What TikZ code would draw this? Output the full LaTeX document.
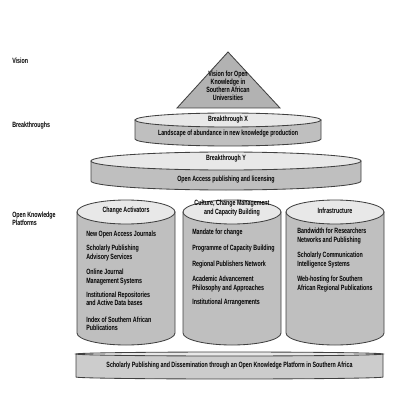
\documentclass[tikz,border=0pt]{standalone}
\usepackage{fontspec}
\setmainfont{Liberation Sans}[FakeStretch=0.7]
\usetikzlibrary{calc}

\begin{document}
\begin{tikzpicture}[x=0.025cm, y=0.025cm,
  shell/.style={draw=black!75, line width=0.6pt, fill=black!25},
  lid/.style={draw=black!75, line width=0.6pt, fill=black!9},
  lbl/.style={font=\bfseries\fontsize{5.4}{5.8}\selectfont, inner sep=0pt, align=center},
  item/.style={lbl, anchor=west, align=left}]
  \useasboundingbox (0,0) rectangle (400,-400);
  % ---- level labels on the left ----
  \node[item] (lvision) at (12,-61) {Vision};
  \node[item] (lbreak) at (12,-126) {Breakthroughs};
  \node[item] (lplat) at (12,-219) {Open Knowledge\\Platforms};
  % ---- vision: triangle ----
  \draw[shell, fill=black!30] (228,-52) -- (280,-108) -- (177,-108) -- cycle;
  \node[lbl] (vision) at (228,-86)
    {Vision for Open\\Knowledge in\\Southern African\\Universities};
  % ---- breakthrough X ----
  \draw[shell] (135,-120) -- (135,-139)
    arc[start angle=180, end angle=360, x radius=93, y radius=7] -- (321,-120) -- cycle;
  \draw[lid] (228,-120) ellipse [x radius=93, y radius=7];
  \node[lbl] (bx) at (228,-120) {Breakthrough X};
  \node[lbl] (bxtext) at (228,-134) {Landscape of abundance in new knowledge production};
  % ---- breakthrough Y ----
  \draw[shell] (91,-161) -- (91,-181)
    arc[start angle=180, end angle=360, x radius=135, y radius=9] -- (361,-161) -- cycle;
  \draw[lid] (226,-161) ellipse [x radius=135, y radius=9];
  \node[lbl] (by) at (226,-159) {Breakthrough Y};
  \node[lbl] (bytext) at (226,-180) {Open Access publishing and licensing};
  % ---- three platform columns ----
  \foreach \cx in {126,232,335} {
    \draw[shell] (\cx-49,-212) -- (\cx-49,-333)
      arc[start angle=180, end angle=360, x radius=49, y radius=12] -- (\cx+49,-212) -- cycle;
    \draw[lid] (\cx,-212) ellipse [x radius=49, y radius=12];
  }
  \node[lbl] (ca) at (126,-211) {Change Activators};
  \node[lbl] (ccm) at (232,-208) {Culture, Change Management\\and Capacity Building};
  \node[lbl] (infra) at (335,-211) {Infrastructure};
  % change activators
  \node[item] (ca1) at (86,-235) {New Open Access Journals};
  \node[item] (ca2) at (86,-253) {Scholarly Publishing\\Advisory Services};
  \node[item] (ca3) at (86,-277) {Online Journal\\Management Systems};
  \node[item] (ca4) at (86,-299) {Institutional Repositories\\and Active Data bases};
  \node[item] (ca5) at (86,-324) {Index of Southern African\\Publications};
  % culture, change management
  \node[item] (cc1) at (192,-233) {Mandate for change};
  \node[item] (cc2) at (192,-249) {Programme of Capacity Building};
  \node[item] (cc3) at (192,-265) {Regional Publishers Network};
  \node[item] (cc4) at (192,-284) {Academic Advancement\\Philosophy and Approaches};
  \node[item] (cc5) at (192,-303) {Institutional Arrangements};
  % infrastructure
  \node[item] (in1) at (297,-236) {Bandwidth for Researchers\\Networks and Publishing};
  \node[item] (in2) at (297,-260) {Scholarly Communication\\Intelligence Systems};
  \node[item] (in3) at (297,-284) {Web-hosting for Southern\\African Regional Publications};
  % ---- base platform ----
  \draw[shell, fill=black!20] (76,-354) -- (76,-377)
    arc[start angle=180, end angle=360, x radius=153.5, y radius=2] -- (383,-354) -- cycle;
  \draw[lid] (229.5,-354) ellipse [x radius=153.5, y radius=2];
  \node[lbl] (base) at (229.5,-366)
    {Scholarly Publishing and Dissemination through an Open Knowledge Platform in Southern Africa};
\end{tikzpicture}
\end{document}
